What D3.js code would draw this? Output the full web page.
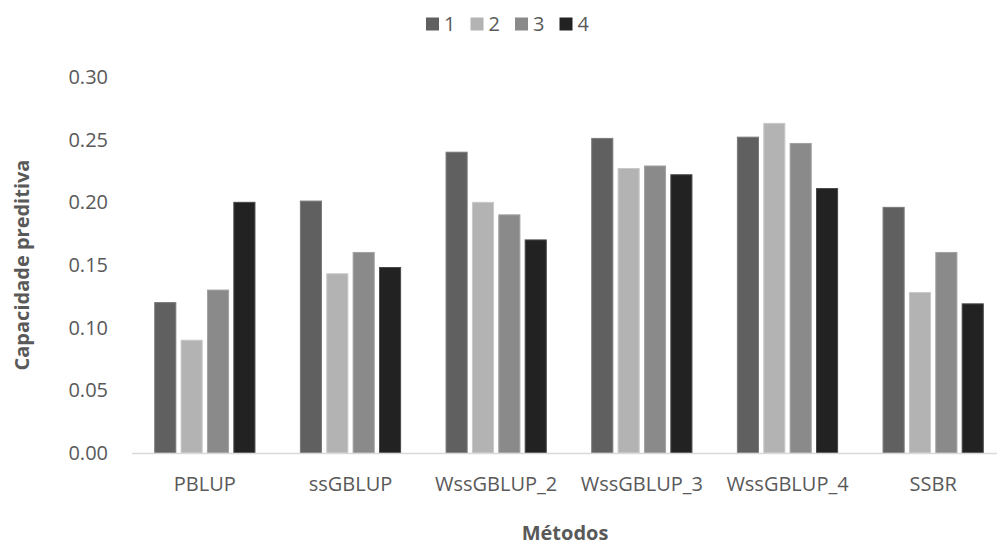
<!DOCTYPE html>
<html>
<head>
<meta charset="utf-8">
<script src="https://cdn.jsdelivr.net/npm/d3@7"></script>
<style>
  body { margin: 0; background: #fff; }
  text { font-family: "Open Sans", sans-serif; }
</style>
</head>
<body>
<div id="chart"></div>
<script>
// data
var methods = ["PBLUP", "ssGBLUP", "WssGBLUP_2", "WssGBLUP_3", "WssGBLUP_4", "SSBR"];
var seriesNames = ["1", "2", "3", "4"];
var s1 = [0.120, 0.201, 0.240, 0.251, 0.252, 0.196];
var s2 = [0.090, 0.143, 0.200, 0.227, 0.263, 0.128];
var s3 = [0.130, 0.160, 0.190, 0.229, 0.247, 0.160];
var s4 = [0.200, 0.148, 0.170, 0.222, 0.211, 0.119];
var yTicks = [0, 0.05, 0.10, 0.15, 0.20, 0.25, 0.30];

var colors = ["#606060", "#b3b3b3", "#8a8a8a", "#222222"];
var strokes = ["#7a7a7a", "#c9c9c9", "#a2a2a2", "#484848"];

var svgWidth = 997;
var svgHeight = 546;

var svg = d3.select("#chart")
  .append("svg")
  .attr("width", svgWidth)
  .attr("height", svgHeight);

var allSeries = [s1, s2, s3, s4];

// scales
var x0 = d3.scaleBand()
  .domain(methods)
  .range([132, 1006])
  .paddingInner(0.312)
  .paddingOuter(0.156);

var x1 = d3.scaleBand()
  .domain(seriesNames)
  .range([0, x0.bandwidth()])
  .paddingInner(0.2);

var y = d3.scaleLinear()
  .domain([0, 0.30])
  .range([453, 77]);

// bars
var groups = svg.append("g").selectAll("g")
  .data(methods)
  .enter()
  .append("g")
  .attr("transform", d => `translate(${x0(d)},0)`);

groups.selectAll("rect")
  .data((m, i) => seriesNames.map((s, j) => ({ key: s, idx: j, value: allSeries[j][i] })))
  .enter()
  .append("rect")
  .attr("x", d => x1(d.key))
  .attr("y", d => y(d.value))
  .attr("width", x1.bandwidth())
  .attr("height", d => y(0) - y(d.value))
  .attr("fill", d => colors[d.idx])
  .attr("stroke", d => strokes[d.idx])
  .attr("stroke-width", 1);

// x axis line
svg.append("line")
  .attr("x1", 132)
  .attr("x2", 1006)
  .attr("y1", y(0) + 0.5)
  .attr("y2", y(0) + 0.5)
  .attr("stroke", "#d9d9d9")
  .attr("stroke-width", 1.5);

// y tick labels
svg.append("g").selectAll("text")
  .data(yTicks)
  .enter()
  .append("text")
  .attr("x", 108)
  .attr("y", d => y(d))
  .attr("dy", "0.35em")
  .attr("text-anchor", "end")
  .attr("font-size", 20)
  .attr("fill", "#595959")
  .text(d => d3.format(".2f")(d));

// category labels
svg.append("g").selectAll("text")
  .data(methods)
  .enter()
  .append("text")
  .attr("x", d => x0(d) + x0.bandwidth() / 2)
  .attr("y", 491)
  .attr("text-anchor", "middle")
  .attr("font-size", 20)
  .attr("fill", "#595959")
  .text(d => d);

// axis titles
svg.append("text")
  .attr("x", (132 + 1006) / 2 - 4)
  .attr("y", 540)
  .attr("text-anchor", "middle")
  .attr("font-size", 20)
  .attr("font-weight", "bold")
  .attr("fill", "#595959")
  .text("Métodos");

svg.append("text")
  .attr("transform", `translate(29,${(77 + 453) / 2})rotate(-90)`)
  .attr("text-anchor", "middle")
  .attr("font-size", 20)
  .attr("font-weight", "bold")
  .attr("fill", "#595959")
  .text("Capacidade preditiva");

// legend
var legend = svg.append("g").selectAll("g")
  .data(seriesNames)
  .enter()
  .append("g")
  .attr("transform", (d, i) => `translate(${426 + i * 44.5},0)`);

legend.append("rect")
  .attr("x", 0)
  .attr("y", 17.5)
  .attr("width", 13)
  .attr("height", 13)
  .attr("fill", (d, i) => colors[i]);

legend.append("text")
  .attr("x", 18)
  .attr("y", 31)
  .attr("font-size", 20)
  .attr("fill", "#595959")
  .text(d => d);
</script>
</body>
</html>
